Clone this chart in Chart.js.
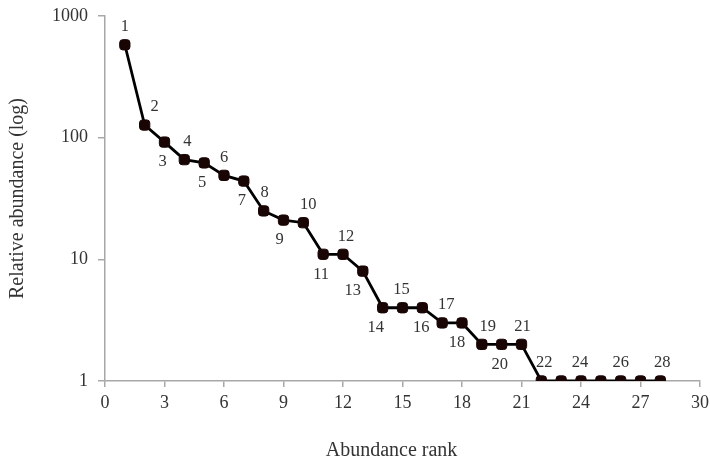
<!DOCTYPE html>
<html>
<head>
<meta charset="utf-8">
<script src="https://cdn.jsdelivr.net/npm/chart.js@4"></script>
<style>
  html, body { margin: 0; padding: 0; background: #fff; }
  #wrap { width: 710px; height: 463px; }
</style>
</head>
<body>
<div id="wrap"><canvas id="c" width="710" height="463"></canvas></div>
<script>
// Data
const ranks = [1,2,3,4,5,6,7,8,9,10,11,12,13,14,15,16,17,18,19,20,21,22,23,24,25,26,27,28];
const abundance = [580,127,92,66,62,49,44,25,21,20,11,11,8,4,4,4,3,3,2,2,2,1,1,1,1,1,1,1];
const pointLabels = ['1','2','3','4','5','6','7','8','9','10','11','12','13','14','15','16','17','18','19','20','21','22','','24','','26','','28'];
const yTickValues = [1, 10, 100, 1000];
const xTitle = 'Abundance rank';
const yTitle = 'Relative abundance (log)';

// label placement (above / below) with small horizontal nudges
const labelSide = ['a','a','b','a','b','a','b','a','b','a','b','a','b','b','a','b','a','b','a','b','a','a','','a','','a','','a'];
const labelDx   = [0,10,-2,3,-2,0,-2,1,-4,5,-2,3,-10,-7,-1,-1,4,-5,6,-2,1,3,0,-1,0,0,0,2];

const serif = '"Liberation Serif", "DejaVu Serif", serif';

const labelPlugin = {
  id: 'pointLabels',
  afterDatasetsDraw(chart) {
    const ctx = chart.ctx;
    const meta = chart.getDatasetMeta(0);
    ctx.save();
    ctx.font = '16.5px ' + serif;
    ctx.fillStyle = '#333';
    ctx.textAlign = 'center';
    ctx.textBaseline = 'middle';
    meta.data.forEach((el, i) => {
      const t = pointLabels[i];
      if (!t) return;
      const dy = labelSide[i] === 'a' ? -18 : 20;
      ctx.fillText(t, el.x + labelDx[i], el.y + dy);
    });
    ctx.restore();
  }
};

const xTitlePlugin = {
  id: 'xTitle',
  afterDraw(chart) {
    const ctx = chart.ctx;
    const a = chart.chartArea;
    ctx.save();
    ctx.font = '20px ' + serif;
    ctx.fillStyle = '#333';
    ctx.textAlign = 'center';
    ctx.textBaseline = 'middle';
    ctx.fillText(xTitle, (a.left + a.right) / 2 - 11, 451);
    ctx.restore();
  }
};

new Chart(document.getElementById('c'), {
  type: 'line',
  data: {
    datasets: [{
      data: ranks.map((r, i) => ({ x: r, y: abundance[i] })),
      borderColor: '#000',
      borderWidth: 2.8,
      backgroundColor: '#1a0505',
      pointBackgroundColor: '#1a0505',
      pointBorderColor: '#1a0505',
      pointStyle: 'rectRounded',
      pointRadius: 6,
      pointBorderWidth: 1,
      tension: 0,
      fill: false
    }]
  },
  options: {
    responsive: false,
    animation: false,
    events: [],
    layout: { padding: { top: 16, right: 10, left: 0, bottom: 0 } },
    plugins: { legend: { display: false }, tooltip: { enabled: false } },
    scales: {
      x: {
        type: 'linear',
        min: 0, max: 30,
        ticks: { stepSize: 3, color: '#333', font: { family: serif, size: 18 }, padding: 5, maxRotation: 0 },
        grid: { display: true, drawOnChartArea: false, drawTicks: true, tickLength: 6, color: '#a8a8a8', lineWidth: 1.5 },
        border: { color: '#a8a8a8', width: 1.5 },
        afterFit(s) { s.height = 82; s.paddingLeft = 0; s.paddingRight = 0; }
      },
      y: {
        type: 'logarithmic',
        min: 1, max: 1000,
        afterBuildTicks(s) { s.ticks = yTickValues.map(v => ({ value: v })); },
        ticks: { color: '#333', font: { family: serif, size: 18 }, padding: 10, callback: v => String(v) },
        grid: { display: true, drawOnChartArea: false, drawTicks: true, tickLength: 7, color: '#a8a8a8', lineWidth: 1.5 },
        border: { color: '#a8a8a8', width: 1.5 },
        title: { display: true, text: yTitle, color: '#333', font: { family: serif, size: 20 }, padding: { top: 6, bottom: 0 } },
        afterFit(s) { s.width = 105; s.paddingTop = 0; s.paddingBottom = 0; }
      }
    }
  },
  plugins: [labelPlugin, xTitlePlugin]
});
</script>
</body>
</html>
